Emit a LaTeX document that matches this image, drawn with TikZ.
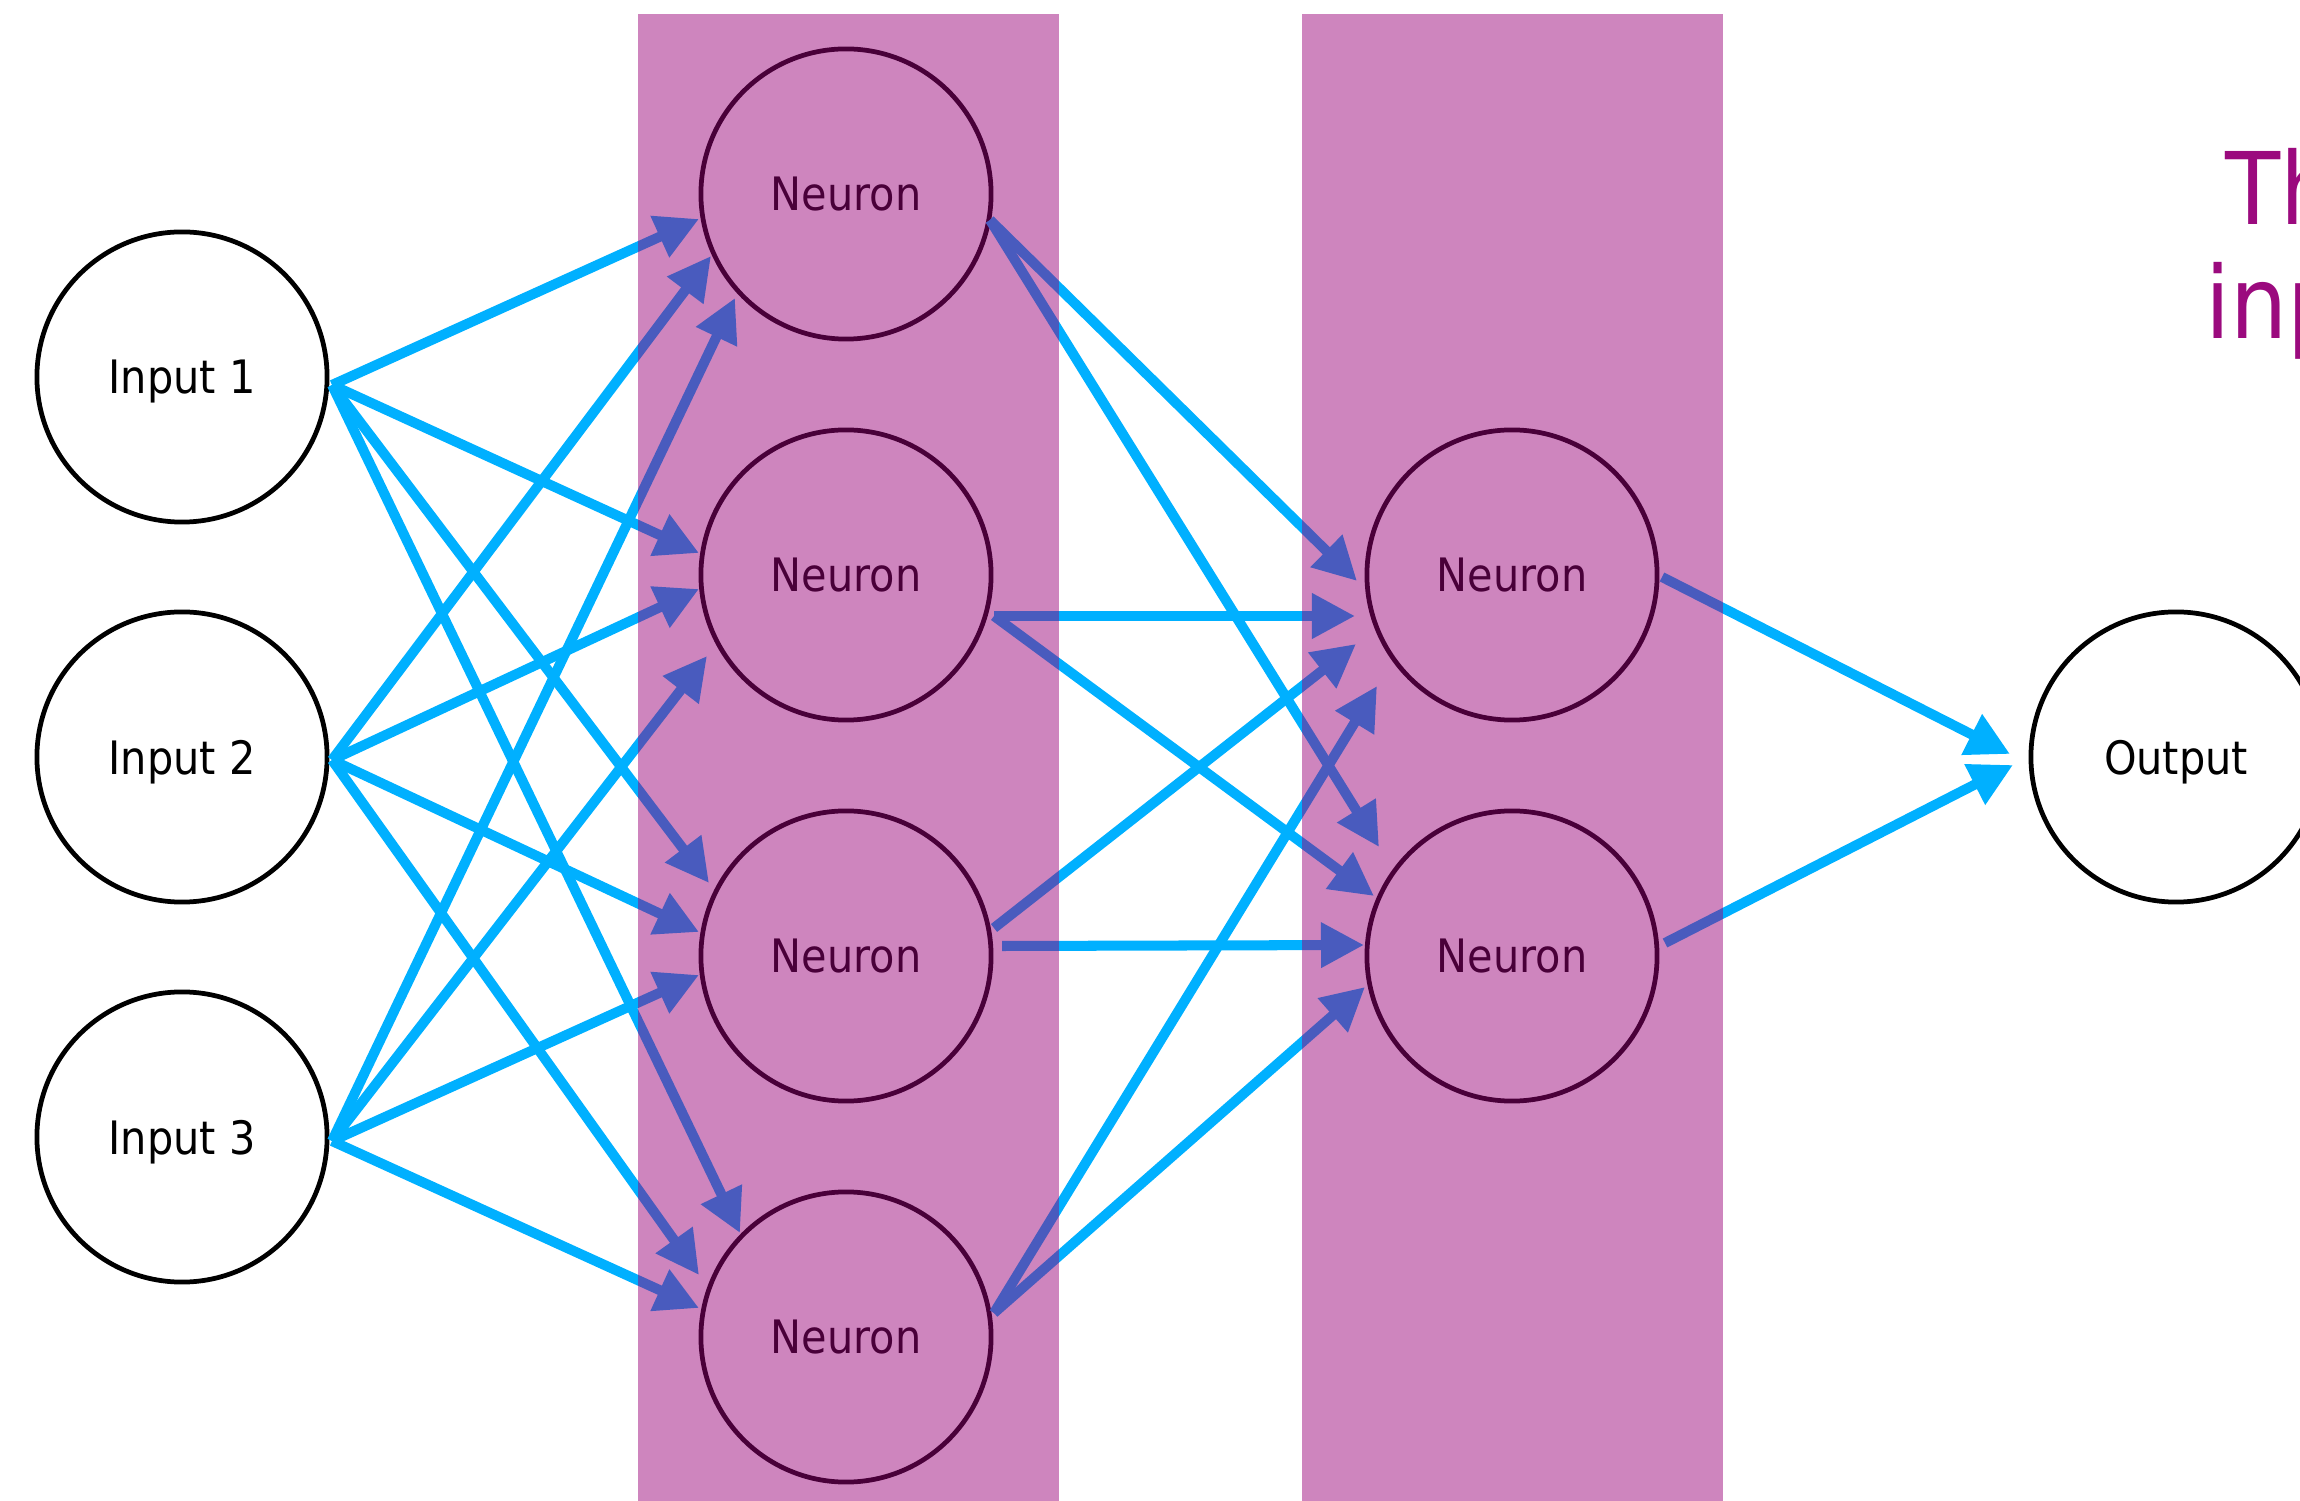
\documentclass[tikz,border=0pt]{standalone}
\usepackage{fontspec}
\setmainfont{DejaVu Sans Condensed}
\usetikzlibrary{arrows.meta,calc}
\definecolor{cyanarrow}{RGB}{0,176,255}
\definecolor{layerpink}{RGB}{153,0,120}
\definecolor{titlemag}{RGB}{155,10,126}
\tikzset{
  unit/.style={circle,draw=black,line width=1.35pt,minimum size=2.9cm,inner sep=0pt,outer sep=0pt,
    font=\fontsize{13.1}{15}\selectfont,text depth=0pt},
  conn/.style={draw=cyanarrow,line width=2.85pt,-{Triangle[length=0.43cm,width=0.43cm]}},
  layer/.style={fill=layerpink,fill opacity=0.48,draw=none},
  titletext/.style={text=titlemag,font=\fontsize{28.5}{34}\selectfont,inner sep=0pt,anchor=base west}
}
\begin{document}
\begin{tikzpicture}[x=0.01cm,y=-0.01cm]
\useasboundingbox (0,0) rectangle (2300,1501);
\clip (0,0) rectangle (2300,1501);
% input nodes
\node[unit] (in1) at (182,377) {Input 1};
\node[unit] (in2) at (182,757) {Input 2};
\node[unit] (in3) at (182,1137) {Input 3};
% hidden layer 1
\node[unit] (n1) at (846,194) {Neuron};
\node[unit] (n2) at (846,575) {Neuron};
\node[unit] (n3) at (846,956) {Neuron};
\node[unit] (n4) at (846,1337) {Neuron};
% hidden layer 2
\node[unit] (m1) at (1512,575) {Neuron};
\node[unit] (m2) at (1512,956) {Neuron};
% output
\node[unit] (out) at (2176,757) {Output};
% title (cut off at the right edge)
\node[titletext] (title1) at (2225,225) {Th};
\node[titletext] (title2) at (2205,339) {inp};
% input -> layer 1
\draw[conn] ($(in1)+(150,8)$) -- ($(n1)+(-147,25)$);
\draw[conn] ($(in1)+(150,8)$) -- ($(n2)+(-147,-22)$);
\draw[conn] ($(in1)+(150,8)$) -- ($(n3)+(-137,-73)$);
\draw[conn] ($(in1)+(150,8)$) -- ($(n4)+(-106,-104)$);
\draw[conn] ($(in2)+(150,3)$) -- ($(n1)+(-135,62)$);
\draw[conn] ($(in2)+(150,3)$) -- ($(n2)+(-147,14)$);
\draw[conn] ($(in2)+(150,3)$) -- ($(n3)+(-147,-24)$);
\draw[conn] ($(in2)+(150,3)$) -- ($(n4)+(-147,-62)$);
\draw[conn] ($(in3)+(150,4)$) -- ($(n1)+(-111,104)$);
\draw[conn] ($(in3)+(150,4)$) -- ($(n2)+(-139,81)$);
\draw[conn] ($(in3)+(150,4)$) -- ($(n3)+(-147,19)$);
\draw[conn] ($(in3)+(150,4)$) -- ($(n4)+(-147,-29)$);
% layer 1 -> layer 2
\draw[conn] ($(n1)+(144,26)$) -- ($(m1)+(-155,6)$);
\draw[conn] ($(n1)+(144,26)$) -- ($(m2)+(-133,-109)$);
\draw[conn] ($(n2)+(148,41)$) -- ($(m1)+(-157,41)$);
\draw[conn] ($(n2)+(148,41)$) -- ($(m2)+(-138,-60)$);
\draw[conn] ($(n3)+(148,-28)$) -- ($(m1)+(-156,69)$);
\draw[conn] ($(n3)+(156,-10)$) -- ($(m2)+(-148,-11)$);
\draw[conn] ($(n4)+(148,-24)$) -- ($(m1)+(-135,111)$);
\draw[conn] ($(n4)+(148,-24)$) -- ($(m2)+(-147,31)$);
% layer 2 -> output
\draw[conn] ($(m1)+(150,2)$) -- ($(out)+(-166,-3)$);
\draw[conn] ($(m2)+(153,-13)$) -- ($(out)+(-163,8)$);
% translucent layer bands on top
\fill[layer] (638,14) rectangle (1059,1501);
\fill[layer] (1302,14) rectangle (1723,1501);
\end{tikzpicture}
\end{document}
